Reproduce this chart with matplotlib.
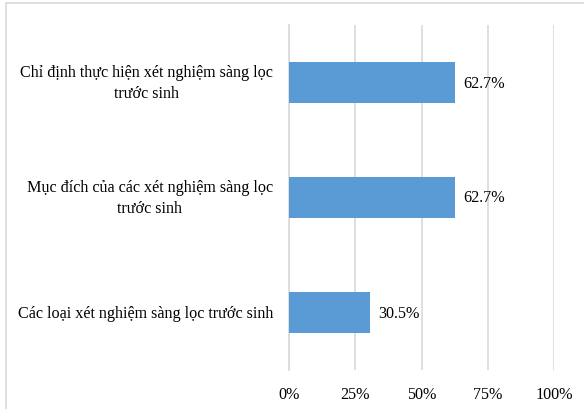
import matplotlib.pyplot as plt
from matplotlib.patches import Rectangle

# Dữ liệu
categories = [
    "Các loại xét nghiệm sàng lọc trước sinh",
    "Mục đích của các xét nghiệm sàng lọc\ntrước sinh",
    "Chỉ định thực hiện xét nghiệm sàng lọc\ntrước sinh",
]
values = [30.5, 62.7, 62.7]
ticks = [0, 25, 50, 75, 100]
tick_labels = ["0%", "25%", "50%", "75%", "100%"]

plt.rcParams['font.family'] = ['Liberation Serif', 'DejaVu Serif']
FS = 11.6

fig = plt.figure(figsize=(5.84, 4.10), dpi=100)
# Khung viền ngoài
fig.patches.append(Rectangle((6 / 584, -0.1), 1.2, 1 - 4 / 410 + 0.1,
                             transform=fig.transFigure, fill=False,
                             edgecolor='#d9d9d9', linewidth=1.2))

ax = fig.add_axes([289 / 584, 1 - 371 / 410, (554 - 289) / 584, (371 - 26) / 410])
y = range(len(categories))
ax.barh(y, values, height=0.35, color='#5B9BD5', zorder=3)
for yi, v in zip(y, values):
    ax.text(v + 3, yi, f"{v}%", va='center', ha='left', fontsize=FS)

ax.set_xlim(0, 100)
ax.set_ylim(-0.5, len(categories) - 0.5)
ax.set_xticks(ticks)
ax.set_xticklabels(tick_labels, fontsize=FS)
ax.set_yticks(list(y))
ax.set_yticklabels(categories, fontsize=FS, multialignment='center',
                   linespacing=1.4, va='center')
ax.tick_params(axis='both', length=0)
ax.tick_params(axis='x', pad=11.5)
ax.tick_params(axis='y', pad=11.5)
ax.xaxis.grid(True, color='#d9d9d9', linewidth=1.2, zorder=0)
for s in ['top', 'right', 'bottom']:
    ax.spines[s].set_visible(False)
ax.spines['left'].set_color('#d9d9d9')
ax.spines['left'].set_linewidth(1.2)

fig.savefig('out.png', dpi=100)
